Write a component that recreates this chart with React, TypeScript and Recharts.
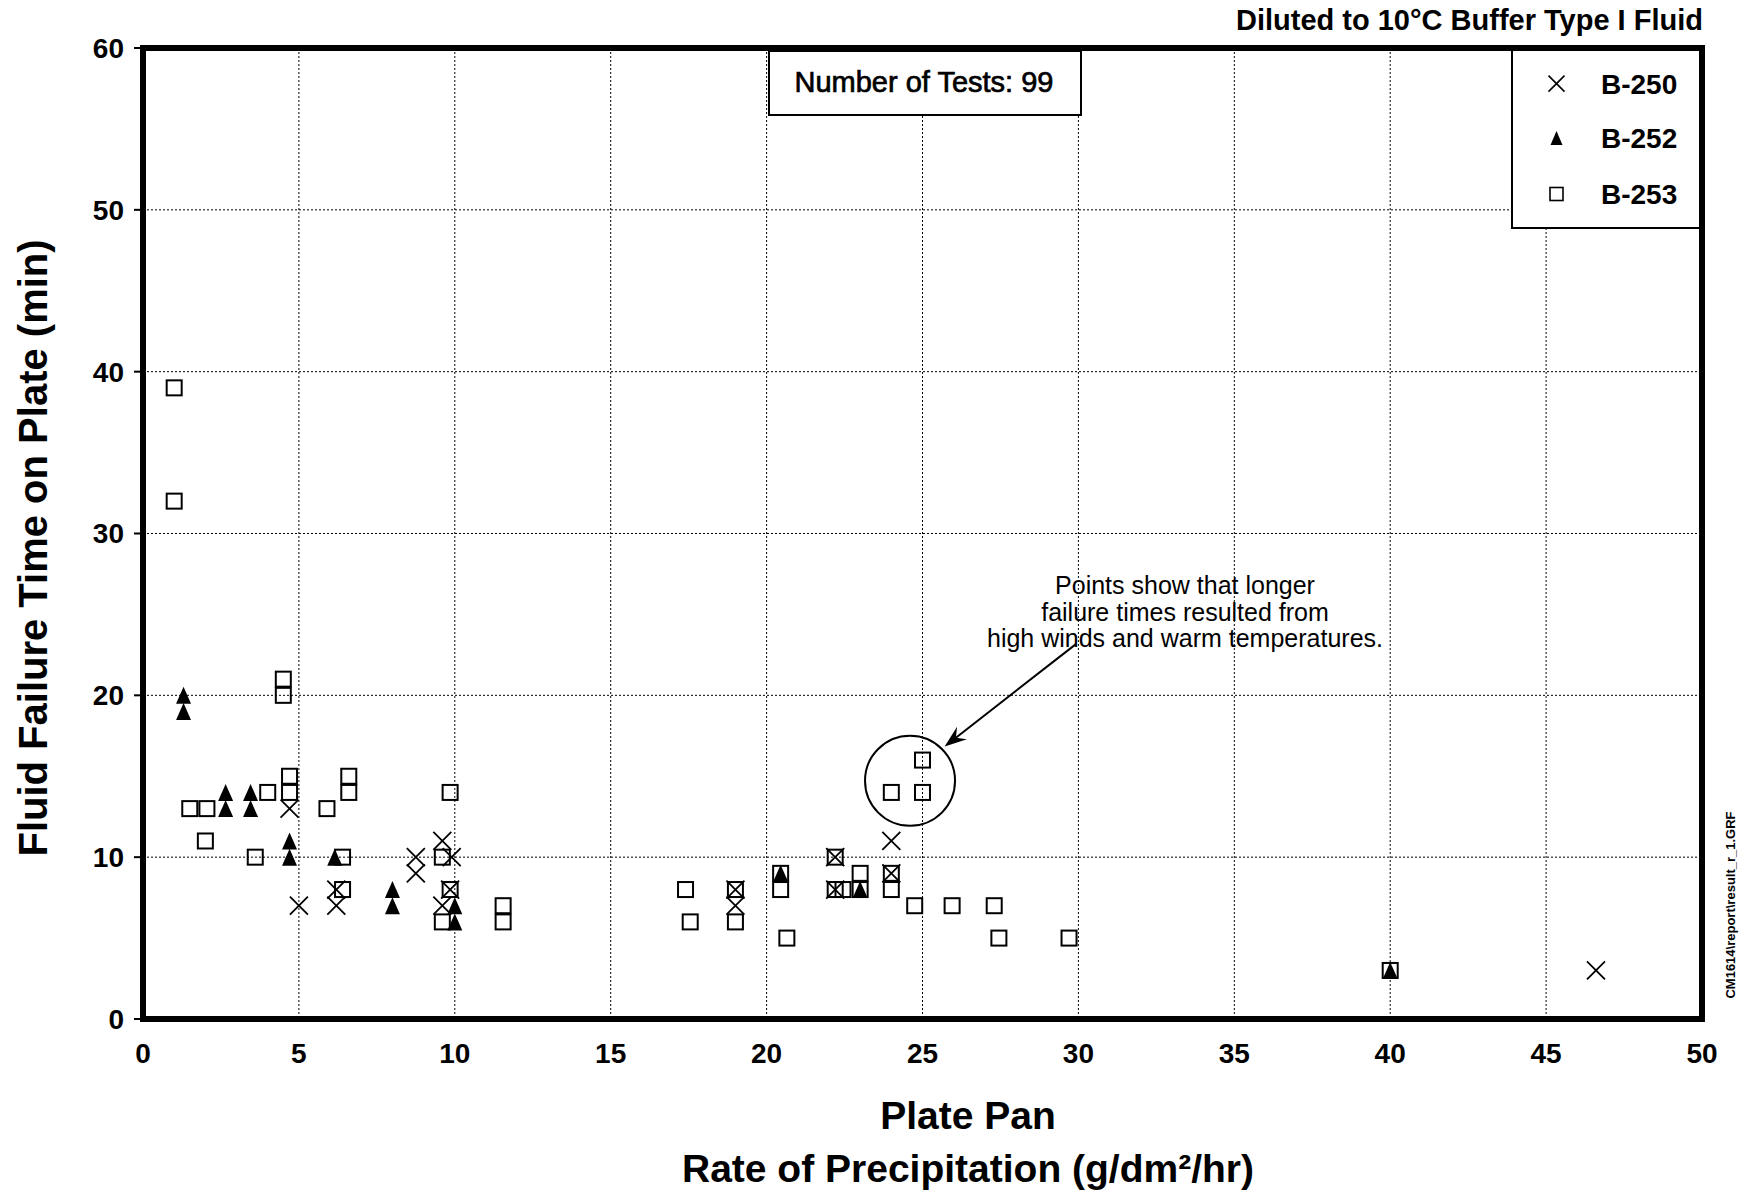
import {
  CartesianGrid,
  Legend,
  ReferenceArea,
  ReferenceDot,
  ReferenceLine,
  Scatter,
  ScatterChart,
  XAxis,
  YAxis
} from "recharts";

type Pt = { x: number; y: number };

const font = '"Liberation Sans", Arial, Helvetica, sans-serif';

const xTicks = [0, 5, 10, 15, 20, 25, 30, 35, 40, 45, 50];
const yTicks = [0, 10, 20, 30, 40, 50, 60];

// B-250 (x marks)
const b250: Pt[] = [
  { x: 4.7, y: 13 }, { x: 5.0, y: 7 }, { x: 6.2, y: 8 }, { x: 6.2, y: 7 },
  { x: 8.75, y: 10 }, { x: 8.75, y: 9 }, { x: 9.6, y: 11 }, { x: 9.9, y: 10 },
  { x: 9.85, y: 8 }, { x: 9.6, y: 7 }, { x: 19, y: 8 }, { x: 19, y: 7 },
  { x: 22.2, y: 10 }, { x: 22.2, y: 8 }, { x: 24, y: 11 }, { x: 24, y: 9 },
  { x: 46.6, y: 3 }
];

// B-252 (filled triangles)
const b252: Pt[] = [
  { x: 1.3, y: 20 }, { x: 1.3, y: 19 }, { x: 2.65, y: 14 }, { x: 2.65, y: 13 },
  { x: 3.45, y: 14 }, { x: 3.45, y: 13 }, { x: 4.7, y: 11 }, { x: 4.7, y: 10 },
  { x: 6.15, y: 10 }, { x: 8, y: 8 }, { x: 8, y: 7 }, { x: 10, y: 7 },
  { x: 10, y: 6 }, { x: 20.45, y: 9 }, { x: 23, y: 8 }, { x: 40, y: 3 }
];

// B-253 (open squares)
const b253: Pt[] = [
  { x: 1.0, y: 39 }, { x: 1.0, y: 32 }, { x: 4.5, y: 21 }, { x: 4.5, y: 20 },
  { x: 1.5, y: 13 }, { x: 2.05, y: 13 }, { x: 2.0, y: 11 }, { x: 3.6, y: 10 },
  { x: 4.0, y: 14 }, { x: 4.7, y: 15 }, { x: 4.7, y: 14 }, { x: 5.9, y: 13 },
  { x: 6.4, y: 10 }, { x: 6.4, y: 8 }, { x: 6.6, y: 15 }, { x: 6.6, y: 14 },
  { x: 9.6, y: 10 }, { x: 9.6, y: 6 }, { x: 9.85, y: 14 }, { x: 9.85, y: 8 },
  { x: 11.55, y: 7 }, { x: 11.55, y: 6 }, { x: 17.4, y: 8 }, { x: 17.55, y: 6 },
  { x: 19, y: 8 }, { x: 19, y: 6 }, { x: 20.45, y: 9 }, { x: 20.45, y: 8 },
  { x: 20.65, y: 5 }, { x: 22.2, y: 10 }, { x: 22.2, y: 8 }, { x: 22.45, y: 8 },
  { x: 23, y: 9 }, { x: 23, y: 8 }, { x: 24, y: 14 }, { x: 24, y: 9 },
  { x: 24, y: 8 }, { x: 24.75, y: 7 }, { x: 25, y: 16 }, { x: 25, y: 14 },
  { x: 25.95, y: 7 }, { x: 27.3, y: 7 }, { x: 27.45, y: 5 }, { x: 29.7, y: 5 },
  { x: 40, y: 3 }
];

const seriesNames = ["B-250", "B-252", "B-253"];

// annotation anchors (data units)
const circleAt = { x: 24.6, y: 14.72 };
const arrowFrom = { x: 29.93, y: 23.18 };
const arrowTo = { x: 25.71, y: 16.84 };

function XMark({ cx, cy }: any) {
  const s = 9;
  return (
    <path
      d={`M${cx - s},${cy - s}L${cx + s},${cy + s}M${cx - s},${cy + s}L${cx + s},${cy - s}`}
      stroke="#000"
      strokeWidth={1.8}
      fill="none"
    />
  );
}

function TriMark({ cx, cy }: any) {
  return <path d={`M${cx},${cy - 8.5}L${cx + 7.5},${cy + 8.5}L${cx - 7.5},${cy + 8.5}Z`} fill="#000" />;
}

function SqMark({ cx, cy }: any) {
  return <rect x={cx - 7.5} y={cy - 7.5} width={15} height={15} fill="none" stroke="#000" strokeWidth={2} />;
}

function ArrowShape(p: any) {
  const { x1, y1, x2, y2 } = p;
  const dx = x2 - x1;
  const dy = y2 - y1;
  const len = Math.hypot(dx, dy) || 1;
  const ux = dx / len;
  const uy = dy / len;
  const L = 22;
  const W = 8;
  const bx = x2 - ux * L;
  const by = y2 - uy * L;
  const nx = -uy;
  const ny = ux;
  const mx = x2 - ux * L * 0.65;
  const my = y2 - uy * L * 0.65;
  return (
    <g>
      <line x1={x1} y1={y1} x2={mx} y2={my} stroke="#000" strokeWidth={2} />
      <path d={`M${x2},${y2}L${bx + nx * W},${by + ny * W}L${mx},${my}L${bx - nx * W},${by - ny * W}Z`} fill="#000" />
    </g>
  );
}

const legendMarks = [
  (cx: number, cy: number) => (
    <path d={`M${cx - 8},${cy - 8}L${cx + 8},${cy + 8}M${cx - 8},${cy + 8}L${cx + 8},${cy - 8}`} stroke="#000" strokeWidth={1.6} />
  ),
  (cx: number, cy: number) => <path d={`M${cx},${cy - 7}L${cx + 6},${cy + 7}L${cx - 6},${cy + 7}Z`} fill="#000" />,
  (cx: number, cy: number) => <rect x={cx - 6.5} y={cy - 6.5} width={13} height={13} fill="none" stroke="#000" strokeWidth={1.6} />
];

function LegendBox({ payload }: any) {
  const names = payload && payload.length ? payload.map((p: any) => p.value) : seriesNames;
  const rows = [32.6, 87, 143];
  return (
    <svg width={188} height={178} style={{ display: "block" }}>
      <rect x={1} y={-2} width={190} height={179} fill="#fff" stroke="#000" strokeWidth={2} />
      {names.map((n: string, i: number) => (
        <g key={n}>
          {legendMarks[i](45.5, rows[i])}
          <text x={90} y={rows[i] + 10} fontFamily={font} fontWeight={700} fontSize={28} fill="#000">
            {n}
          </text>
        </g>
      ))}
    </svg>
  );
}

const tickStyle = { fill: "#000", fontSize: 28, fontWeight: 700, fontFamily: font };

export default function App() {
  return (
    <div style={{ position: "absolute", left: 0, top: 0, width: 1747, height: 1191, background: "#fff" }}>
      <ScatterChart width={1747} height={1191} margin={{ top: 48, right: 45, bottom: 112, left: 63 }}>
        <CartesianGrid stroke="#000" strokeDasharray="2 2" strokeWidth={1} />
        <XAxis
          type="number"
          dataKey="x"
          domain={[0, 50]}
          ticks={xTicks}
          interval={0}
          height={60}
          axisLine={false}
          tickLine={false}
          tickSize={6}
          tickMargin={18}
          tick={tickStyle}
        />
        <YAxis
          type="number"
          dataKey="y"
          domain={[0, 60]}
          ticks={yTicks}
          interval={0}
          width={80}
          axisLine={false}
          tickLine={{ stroke: "#000", strokeWidth: 2 }}
          tickSize={9}
          tickMargin={10}
          tick={tickStyle}
        />
        <Scatter name={seriesNames[0]} data={b250} shape={XMark} isAnimationActive={false} />
        <Scatter name={seriesNames[1]} data={b252} shape={TriMark} isAnimationActive={false} />
        <Scatter name={seriesNames[2]} data={b253} shape={SqMark} isAnimationActive={false} />
        <ReferenceDot
          x={circleAt.x}
          y={circleAt.y}
          r={45}
          fill="none"
          stroke="#000"
          strokeWidth={2}
          ifOverflow="visible"
        />
        <ReferenceLine segment={[arrowFrom, arrowTo]} ifOverflow="visible" shape={ArrowShape} />
        <ReferenceArea x1={0} x2={50} y1={0} y2={60} fill="none" stroke="#000" strokeWidth={6} ifOverflow="visible" />
        <Legend
          layout="vertical"
          align="center"
          verticalAlign="middle"
          content={LegendBox}
          wrapperStyle={{ left: 1511, top: 51, right: "auto", bottom: "auto", width: 188, height: 178 }}
        />
      </ScatterChart>

      <svg
        width={1747}
        height={1191}
        style={{ position: "absolute", left: 0, top: 0, pointerEvents: "none" }}
        fontFamily={font}
      >
        <text x={1703} y={30} textAnchor="end" fontSize={29} fontWeight={700} fill="#000">
          Diluted to 10°C Buffer Type I Fluid
        </text>

        <rect x={769} y={51} width={312} height={64} fill="#fff" stroke="#000" strokeWidth={2} />
        <text x={924} y={92} textAnchor="middle" fontSize={29} fill="#000" stroke="#000" strokeWidth={0.7}>
          Number of Tests: 99
        </text>

        <g fontSize={25} fill="#000" textAnchor="middle">
          <text x={1185} y={594}>Points show that longer</text>
          <text x={1185} y={620.5}>failure times resulted from</text>
          <text x={1185} y={647}>high winds and warm temperatures.</text>
        </g>

        <text
          transform="translate(47, 548) rotate(-90)"
          textAnchor="middle"
          fontSize={40}
          fontWeight={700}
          fill="#000"
        >
          Fluid Failure Time on Plate (min)
        </text>

        <text x={968} y={1129} textAnchor="middle" fontSize={39} fontWeight={700} fill="#000">
          Plate Pan
        </text>
        <text x={968} y={1182} textAnchor="middle" fontSize={39} fontWeight={700} fill="#000">
          Rate of Precipitation (g/dm²/hr)
        </text>

        <text transform="translate(1735, 905) rotate(-90)" textAnchor="middle" fontSize={13} fontWeight={700} fill="#000">
          CM1614\report\result_r_1.GRF
        </text>
      </svg>
    </div>
  );
}
